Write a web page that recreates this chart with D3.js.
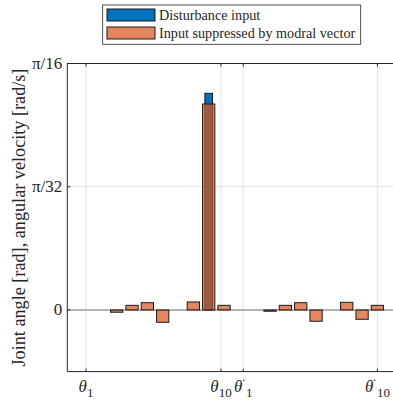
<!DOCTYPE html>
<meta charset="utf-8">
<html lang="en">
<head>
    <title>Modal vector bars</title>
    <script src="https://d3js.org/d3.v7.min.js"></script>
</head>
<style>
    body { margin: 0; background: #fff; }
    text { font-family: "Liberation Serif", "Times New Roman", serif; fill: #262626; }
    .grid line { stroke: #e3e3e3; stroke-width: 1; }
    .axisline { stroke: #262626; stroke-width: 1; fill: none; }
    .bar { stroke: #1a1a1a; stroke-width: 1; }
</style>
<body>
<script>
    // bar index 1..20 (theta_1..theta_10, dtheta_1..dtheta_10)
    var index = d3.range(1, 21);
    var disturbance = [0, 0, 0, 0, 0, 0, 0, 0, 0.1726, 0,
                       0, 0, 0, 0, 0, 0, 0, 0, 0, 0];
    var suppressed = [0, 0, -0.0018, 0.0037, 0.0058, -0.0098, 0, 0.0064, 0.1641, 0.0037,
                      0, 0, -0.0010, 0.0037, 0.0058, -0.0090, 0, 0.0061, -0.0074, 0.0037];
    var xTickPos = [1, 9.8, 11.25, 20];
    var xTickLabels = [["θ", "1", false], ["θ", "10", false], ["θ", "1", true], ["θ", "10", true]];
    var yTickVals = [0, Math.PI / 32, Math.PI / 16];
    var yTickLabels = ["0", "π/32", "π/16"];
    var seriesNames = ["Disturbance input", "Input suppressed by modral vector"];
    var colors = ["#0072BD", "#D95319"];

    var W = 393, H = 405;
    var svg = d3.select("body").append("svg").attr("width", W).attr("height", H);

    var x = d3.scaleLinear().domain([-0.22, 21.5]).range([67.3, 400.4]);
    var y = d3.scaleLinear().domain([-Math.PI / 64, Math.PI / 16]).range([371.6, 63.5]);
    var step = x(2) - x(1);
    var x0 = x.range()[0], x1 = x.range()[1], y0 = y.range()[0], y1 = y.range()[1];

    // grid
    var grid = svg.append("g").attr("class", "grid");
    grid.selectAll(".gx").data(xTickPos).enter().append("line")
        .attr("x1", d => x(d)).attr("x2", d => x(d)).attr("y1", y0).attr("y2", y1);
    grid.selectAll(".gy").data(yTickVals).enter().append("line")
        .attr("x1", x0).attr("x2", x1).attr("y1", d => y(d)).attr("y2", d => y(d));

    // baseline
    svg.append("line").attr("x1", x0).attr("x2", x1).attr("y1", y(0)).attr("y2", y(0))
        .attr("stroke", "#a0a0a0").attr("stroke-width", 1.5);

    function drawBars(vals, color, widthFrac, opacity) {
        svg.append("g").selectAll("rect")
            .data(index.filter((d, i) => vals[i] !== 0))
            .enter().append("rect").attr("class", "bar")
            .attr("x", d => x(d) - step * widthFrac / 2)
            .attr("width", step * widthFrac)
            .attr("y", d => y(Math.max(0, vals[d - 1])))
            .attr("height", d => Math.abs(y(vals[d - 1]) - y(0)))
            .attr("fill", color).attr("fill-opacity", opacity);
    }
    drawBars(disturbance, colors[0], 0.5, 1);
    drawBars(suppressed, colors[1], 0.8, 0.7);

    // axes box
    svg.append("path").attr("class", "axisline")
        .attr("d", "M" + x1 + "," + y1 + "H" + x0 + "V" + y0 + "H" + x1);
    var tl = 3;
    xTickPos.forEach(function (t) {
        svg.append("line").attr("class", "axisline").attr("x1", x(t)).attr("x2", x(t)).attr("y1", y0).attr("y2", y0 - tl);
        svg.append("line").attr("class", "axisline").attr("x1", x(t)).attr("x2", x(t)).attr("y1", y1).attr("y2", y1 + tl);
    });
    yTickVals.forEach(function (t) {
        svg.append("line").attr("class", "axisline").attr("x1", x0).attr("x2", x0 + tl).attr("y1", y(t)).attr("y2", y(t));
    });

    // y tick labels
    svg.selectAll(".ylab").data(yTickVals).enter().append("text")
        .attr("x", x0 - 5).attr("y", d => y(d) + 5.5)
        .attr("text-anchor", "end").style("font-size", "17px")
        .text((d, i) => yTickLabels[i]);

    // x tick labels
    xTickPos.forEach(function (t, i) {
        var lab = xTickLabels[i];
        var tx = svg.append("text").attr("x", x(t)).attr("y", 392)
            .attr("text-anchor", "middle").style("font-size", "17px");
        tx.append("tspan").style("font-style", "italic").text(lab[0]);
        if (lab[2]) tx.append("tspan").attr("dx", -1).attr("dy", -3).style("font-size", "14px").text("˙");
        tx.append("tspan").attr("dy", lab[2] ? 8 : 5).style("font-size", "13px").text(lab[1]);
    });

    // y axis title
    svg.append("text")
        .attr("transform", "translate(25," + ((y0 + y1) / 2) + ") rotate(-90)")
        .attr("text-anchor", "middle").style("font-size", "18.2px")
        .text("Joint angle [rad], angular velocity [rad/s]");

    // legend
    var lg = svg.append("g");
    lg.append("rect").attr("x", 102.7).attr("y", 5).attr("width", 258).attr("height", 39.3)
        .attr("fill", "#fff").attr("stroke", "#262626").attr("stroke-width", 0.8);
    seriesNames.forEach(function (name, i) {
        var ry = 9 + i * 18;
        lg.append("rect").attr("class", "bar").attr("x", 107).attr("y", ry).attr("width", 48).attr("height", 12)
            .attr("fill", colors[i]).attr("fill-opacity", i ? 0.7 : 1);
        lg.append("text").attr("x", 159).attr("y", ry + 11).style("font-size", "14.2px").text(name);
    });
</script>
</body>
</html>
